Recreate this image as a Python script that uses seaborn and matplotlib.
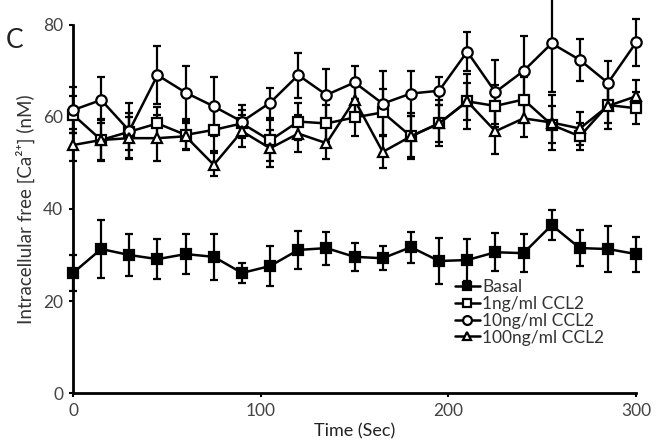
import numpy as np
import pandas as pd
import matplotlib
matplotlib.use("Agg")
import matplotlib.pyplot as plt
import seaborn as sns

# ---- data ----
times = [0, 15, 30, 45, 60, 75, 90, 105, 120, 135, 150, 165, 180, 195, 210, 225, 240, 255, 270, 285, 300]

basal = [26.1, 31.3, 30.0, 29.1, 30.2, 29.6, 26.1, 27.6, 31.1, 31.5, 29.6, 29.3, 31.7, 28.7, 28.9, 30.6, 30.4, 36.5, 31.5, 31.3, 30.2]
basal_err = [3.9, 6.3, 4.6, 4.4, 4.4, 5.0, 2.2, 4.4, 4.1, 3.6, 3.1, 2.6, 3.4, 5.1, 4.6, 4.1, 4.2, 3.3, 3.9, 5.0, 3.8]

ccl2_1 = [60.5, 55.0, 56.8, 58.6, 56.1, 57.2, 58.6, 54.9, 59.0, 58.6, 59.9, 61.0, 55.8, 58.6, 63.4, 62.4, 63.8, 58.3, 55.8, 62.6, 61.9]
ccl2_1_err = [4.0, 4.3, 4.0, 3.5, 3.0, 4.5, 3.0, 4.5, 4.0, 4.0, 4.0, 5.0, 4.5, 4.0, 4.0, 4.5, 5.0, 4.0, 3.0, 4.0, 3.5]

ccl2_10 = [61.5, 63.7, 57.0, 69.1, 65.3, 62.3, 59.0, 63.1, 69.1, 64.8, 67.5, 62.9, 65.1, 65.7, 74.2, 65.4, 70.0, 76.0, 72.4, 67.4, 76.2]
ccl2_10_err = [5.0, 5.0, 6.0, 6.3, 5.8, 6.4, 3.6, 3.3, 4.9, 5.7, 3.5, 7.0, 4.8, 3.0, 4.3, 7.0, 7.5, 10.5, 4.5, 4.7, 5.1]

ccl2_100 = [53.9, 55.0, 55.4, 55.4, 55.8, 49.6, 56.9, 53.2, 56.4, 54.3, 63.7, 52.4, 55.8, 58.6, 63.4, 56.9, 59.7, 58.8, 57.5, 62.4, 64.5]
ccl2_100_err = [3.5, 4.5, 4.5, 5.0, 3.0, 2.5, 3.5, 4.0, 4.0, 3.5, 4.0, 3.5, 5.0, 5.0, 6.0, 5.0, 4.0, 6.0, 3.5, 5.0, 3.5]

labels = ["Basal", "1ng/ml CCL2", "10ng/ml CCL2", "100ng/ml CCL2"]
values = [basal, ccl2_1, ccl2_10, ccl2_100]
errors = [basal_err, ccl2_1_err, ccl2_10_err, ccl2_100_err]

rows = []
for lab, v, e in zip(labels, values, errors):
    for t, y, s in zip(times, v, e):
        rows.append({"time": t, "value": y, "err": s, "series": lab})
df = pd.DataFrame(rows)

sns.set_style("ticks")
plt.rcParams["font.family"] = ["Lato", "DejaVu Sans"]

fig = plt.figure(figsize=(6.65, 4.46), dpi=100)
ax = fig.add_axes([0.1098, 0.1188, 0.8468, 0.8252])

styles = {
    "Basal": dict(marker="s", mfc="black", ms=6.5),
    "1ng/ml CCL2": dict(marker="s", mfc="white", ms=6.5),
    "10ng/ml CCL2": dict(marker="o", mfc="white", ms=7.5),
    "100ng/ml CCL2": dict(marker="^", mfc="white", ms=7.5),
}

for lab in labels:
    sub = df[df["series"] == lab]
    ax.errorbar(sub["time"], sub["value"], yerr=sub["err"], fmt="none",
                ecolor="black", elinewidth=1.6, capsize=3, capthick=1.6,
                clip_on=False, zorder=2)

for lab in labels:
    sub = df[df["series"] == lab]
    st = styles[lab]
    sns.lineplot(data=sub, x="time", y="value", ax=ax, color="black",
                 linewidth=1.8, marker=st["marker"], markersize=st["ms"],
                 markerfacecolor=st["mfc"], markeredgecolor="black",
                 markeredgewidth=1.6, clip_on=False, zorder=3, label=lab)

ax.set_xlim(0, 300)
ax.set_ylim(0, 80)
ax.set_xticks([0, 100, 200, 300])
ax.set_yticks([0, 20, 40, 60, 80])
sns.despine(ax=ax)
for sp in ["left", "bottom"]:
    ax.spines[sp].set_linewidth(2)
    ax.spines[sp].set_color("black")
ax.tick_params(axis="both", labelsize=12.5, labelcolor="#444444", color="black",
               width=1.5, length=3, pad=4)

ax.set_xlabel("Time (Sec)", fontsize=13, color="#222222", labelpad=3)
ax.set_ylabel("Intracellular free [Ca²⁺] (nM)", fontsize=13.5, color="#333333", labelpad=6)

leg = ax.legend(loc="upper left", bbox_to_anchor=(0.678, 0.31), frameon=False,
                fontsize=12.5, handlelength=1.45, handletextpad=0.12,
                labelspacing=0.05, borderaxespad=0, borderpad=0, markerscale=0.85)
for t in leg.get_texts():
    t.set_color("#333333")

fig.text(0.008, 0.893, "C", fontsize=19, color="#222222")

fig.savefig("out.png", dpi=100)
